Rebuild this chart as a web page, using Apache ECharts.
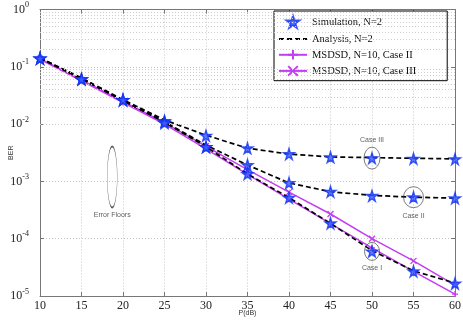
<!DOCTYPE html>
<html>
<head>
<meta charset="utf-8">
<script src="https://cdn.jsdelivr.net/npm/echarts/dist/echarts.min.js"></script>
<style>
  html, body { margin: 0; padding: 0; background: #fff; }
  #chart { width: 463px; height: 321px; }
</style>
</head>
<body>
<div id="chart"></div>
<script>
// P (dB) values
var snr = [10, 15, 20, 25, 30, 35, 40, 45, 50, 55, 60];

// analysis curves (dashed), N=2
var anaCase3 = [0.142, 0.064, 0.0266, 0.0118, 0.0064, 0.0038, 0.0030, 0.00267, 0.0026, 0.00253, 0.00247];
var anaCase2 = [0.142, 0.062, 0.0258, 0.0110, 0.0043, 0.00193, 0.00094, 0.00066, 0.00057, 0.00053, 0.00051];
var anaCase1 = [0.142, 0.062, 0.0257, 0.0108, 0.0040, 0.00135, 0.00052, 0.000185, 0.000062, 0.0000275, 0.0000168];

// simulation points (stars), N=2
var simCase3 = [0.140, 0.061, 0.0264, 0.0113, 0.0063, 0.0038, 0.0030, 0.00265, 0.00255, 0.0025, 0.00245];
var simCase2 = [0.140, 0.061, 0.0264, 0.0110, 0.0040, 0.00193, 0.00094, 0.00066, 0.00056, 0.00053, 0.00051];
var simCase1 = [0.140, 0.061, 0.0264, 0.0105, 0.0040, 0.00135, 0.00052, 0.000186, 0.000060, 0.000027, 0.0000165];

// MSDSD N=10
var msdsdCase2 = [0.135, 0.057, 0.0238, 0.0100, 0.0037, 0.00133, 0.00049, 0.000183, 0.000069, 0.000027, 0.0000108];
var msdsdCase3 = [0.138, 0.059, 0.0248, 0.0106, 0.0041, 0.0016, 0.00065, 0.00027, 0.000100, 0.000041, 0.0000155];

// error floor levels (blue dotted)
var floors = [0.00246, 0.000493];

// annotations: text, x, y
var annoText = ['Case III', 'Case II', 'Case I', 'Error Floors'];
var annoX = [50, 55, 50, 18.7];
var annoY = [0.00255, 0.00053, 0.000060, 0.00119];

var minorY = [];
for (var d = -5; d < 0; d++) {
  for (var k = 2; k <= 9; k++) minorY.push(k * Math.pow(10, d));
}

function pairs(ys) {
  return snr.map(function (x, i) { return [x, ys[i]]; });
}

var magenta = '#c53df2';
var serif = '"Liberation Serif", "Times New Roman", serif';
var sans = '"Liberation Sans", Arial, sans-serif';
var starPath = 'path://M50,0 L61,35 L98,35 L68,57 L79,91 L50,70 L21,91 L32,57 L2,35 L39,35 Z';
var plusPath = 'path://M5,0 L5,10 M0,5 L10,5';
var crossPath = 'path://M0,0 L10,10 M10,0 L0,10';

var chart = echarts.init(document.getElementById('chart'));

var annoSizes = [[16, 22], [20, 21], [15, 18], [10, 61]];
var annoPos = [['top', 3], ['bottom', 4], ['bottom', 4], ['bottom', 3]];

var option = {
  animation: false,
  backgroundColor: '#fff',
  grid: { left: 40, right: 8, top: 9.5, bottom: 25, show: false, containLabel: false, outerBoundsMode: 'none' },
  legend: {
    orient: 'vertical',
    left: 274,
    top: 11,
    padding: [4, 31, 4, 4],
    itemGap: 4.5,
    itemWidth: 28,
    itemHeight: 12,
    backgroundColor: '#fff',
    borderColor: '#000',
    borderWidth: 1,
    borderRadius: 0,
    textStyle: { fontFamily: serif, fontSize: 10.5, color: '#111' },
    data: [
      'Simulation, N=2',
      { name: 'Analysis, N=2', itemStyle: { color: 'rgba(0,0,0,0)', borderColor: 'rgba(0,0,0,0)', borderWidth: 0 } },
      'MSDSD, N=10, Case II',
      'MSDSD, N=10, Case III'
    ]
  },
  xAxis: [{
    type: 'value', min: 10, max: 60, interval: 5,
    name: 'P(dB)', nameLocation: 'middle', nameGap: 14, nameMoveOverlap: false,
    nameTextStyle: { fontFamily: sans, fontSize: 7, color: '#333' },
    axisLine: { show: true, lineStyle: { color: '#777', width: 1 } },
    axisTick: { show: true, inside: true, length: 4, lineStyle: { color: '#777' } },
    axisLabel: { fontFamily: serif, fontSize: 12, color: '#222', margin: 4 },
    splitLine: { show: true, lineStyle: { color: '#c4c4c4', type: [1, 2], width: 1 } }
  }, {
    type: 'value', min: 10, max: 60, interval: 5, position: 'top',
    axisLine: { show: true, lineStyle: { color: '#777', width: 1 } },
    axisTick: { show: true, inside: true, length: 4, lineStyle: { color: '#777' } },
    axisLabel: { show: false }, splitLine: { show: false }
  }],
  yAxis: [{
    type: 'log', logBase: 10, min: 1e-5, max: 1,
    name: 'BER', nameLocation: 'middle', nameGap: 25, nameRotate: 90, nameMoveOverlap: false,
    nameTextStyle: { fontFamily: sans, fontSize: 7, color: '#333' },
    axisLine: { show: true, lineStyle: { color: '#777', width: 1 } },
    axisTick: { show: true, inside: true, length: 4, lineStyle: { color: '#777' } },
    axisLabel: {
      margin: 11,
      formatter: function (v) {
        var e = Math.round(Math.log10(v));
        return '{b|10}{s|' + e + '}';
      },
      rich: {
        b: { fontFamily: serif, fontSize: 12, color: '#222' },
        s: { fontFamily: serif, fontSize: 8, color: '#222', padding: [0, 0, 9, 0] }
      }
    },
    splitLine: { show: true, lineStyle: { color: '#c4c4c4', type: [1, 2], width: 1 } }
  }, {
    type: 'log', logBase: 10, min: 1e-5, max: 1, position: 'right',
    axisLine: { show: true, lineStyle: { color: '#777', width: 1 } },
    axisTick: { show: true, inside: true, length: 4, lineStyle: { color: '#777' } },
    axisLabel: { show: false }, splitLine: { show: false }
  }],
  series: [
    {
      name: 'minor grid', type: 'line', data: [], z: 1, silent: true,
      markLine: {
        silent: true, symbol: ['none', 'none'], label: { show: false },
        lineStyle: { color: '#cdcdcd', type: [1, 2], width: 1 },
        data: minorY.map(function (v) { return { yAxis: v }; })
      }
    },
    {
      name: 'floors', type: 'line', data: [], z: 1, silent: true,
      markLine: {
        silent: true, symbol: ['none', 'none'], label: { show: false },
        lineStyle: { color: '#7a87ff', type: [1.5, 1.5], width: 1.2 },
        data: floors.map(function (v) { return { yAxis: v }; })
      }
    },
    {
      name: 'MSDSD, N=10, Case II', type: 'line', data: pairs(msdsdCase2), z: 3,
      symbol: plusPath, symbolSize: 6,
      lineStyle: { color: magenta, width: 1.5 },
      itemStyle: { color: magenta, borderColor: magenta, borderWidth: 1.3 }
    },
    {
      name: 'MSDSD, N=10, Case III', type: 'line', data: pairs(msdsdCase3), z: 3,
      symbol: crossPath, symbolSize: 6,
      lineStyle: { color: magenta, width: 1.5 },
      itemStyle: { color: magenta, borderColor: magenta, borderWidth: 1.3 }
    },
    [anaCase3, anaCase2, anaCase1].map(function (ys) {
      return {
        name: 'Analysis, N=2', type: 'line', data: pairs(ys), z: 4,
        symbol: 'none',
        lineStyle: { color: '#000', width: 1.7, type: [5, 3] },
        itemStyle: { color: '#000' }
      };
    }),
    {
      name: 'Simulation, N=2', type: 'scatter', z: 5,
      data: pairs(simCase3).concat(pairs(simCase2), pairs(simCase1)),
      symbol: starPath, symbolSize: 11,
      itemStyle: { color: '#3d5cff', borderColor: '#1233f2', borderWidth: 1.4 }
    },
    {
      name: 'annotations', type: 'scatter', z: 6, silent: true,
      symbol: 'circle',
      itemStyle: { color: 'rgba(0,0,0,0)', borderColor: '#333', borderWidth: 0.8 },
      label: { show: true, fontFamily: sans, fontSize: 7, color: '#333' },
      data: annoText.map(function (t, i) {
        return {
          value: [annoX[i], annoY[i]],
          symbolSize: annoSizes[i],
          label: { formatter: t, position: annoPos[i][0], distance: annoPos[i][1] }
        };
      })
    }
  ]
};
// flatten the analysis group
option.series = [].concat.apply([], option.series);

chart.setOption(option);
</script>
</body>
</html>
